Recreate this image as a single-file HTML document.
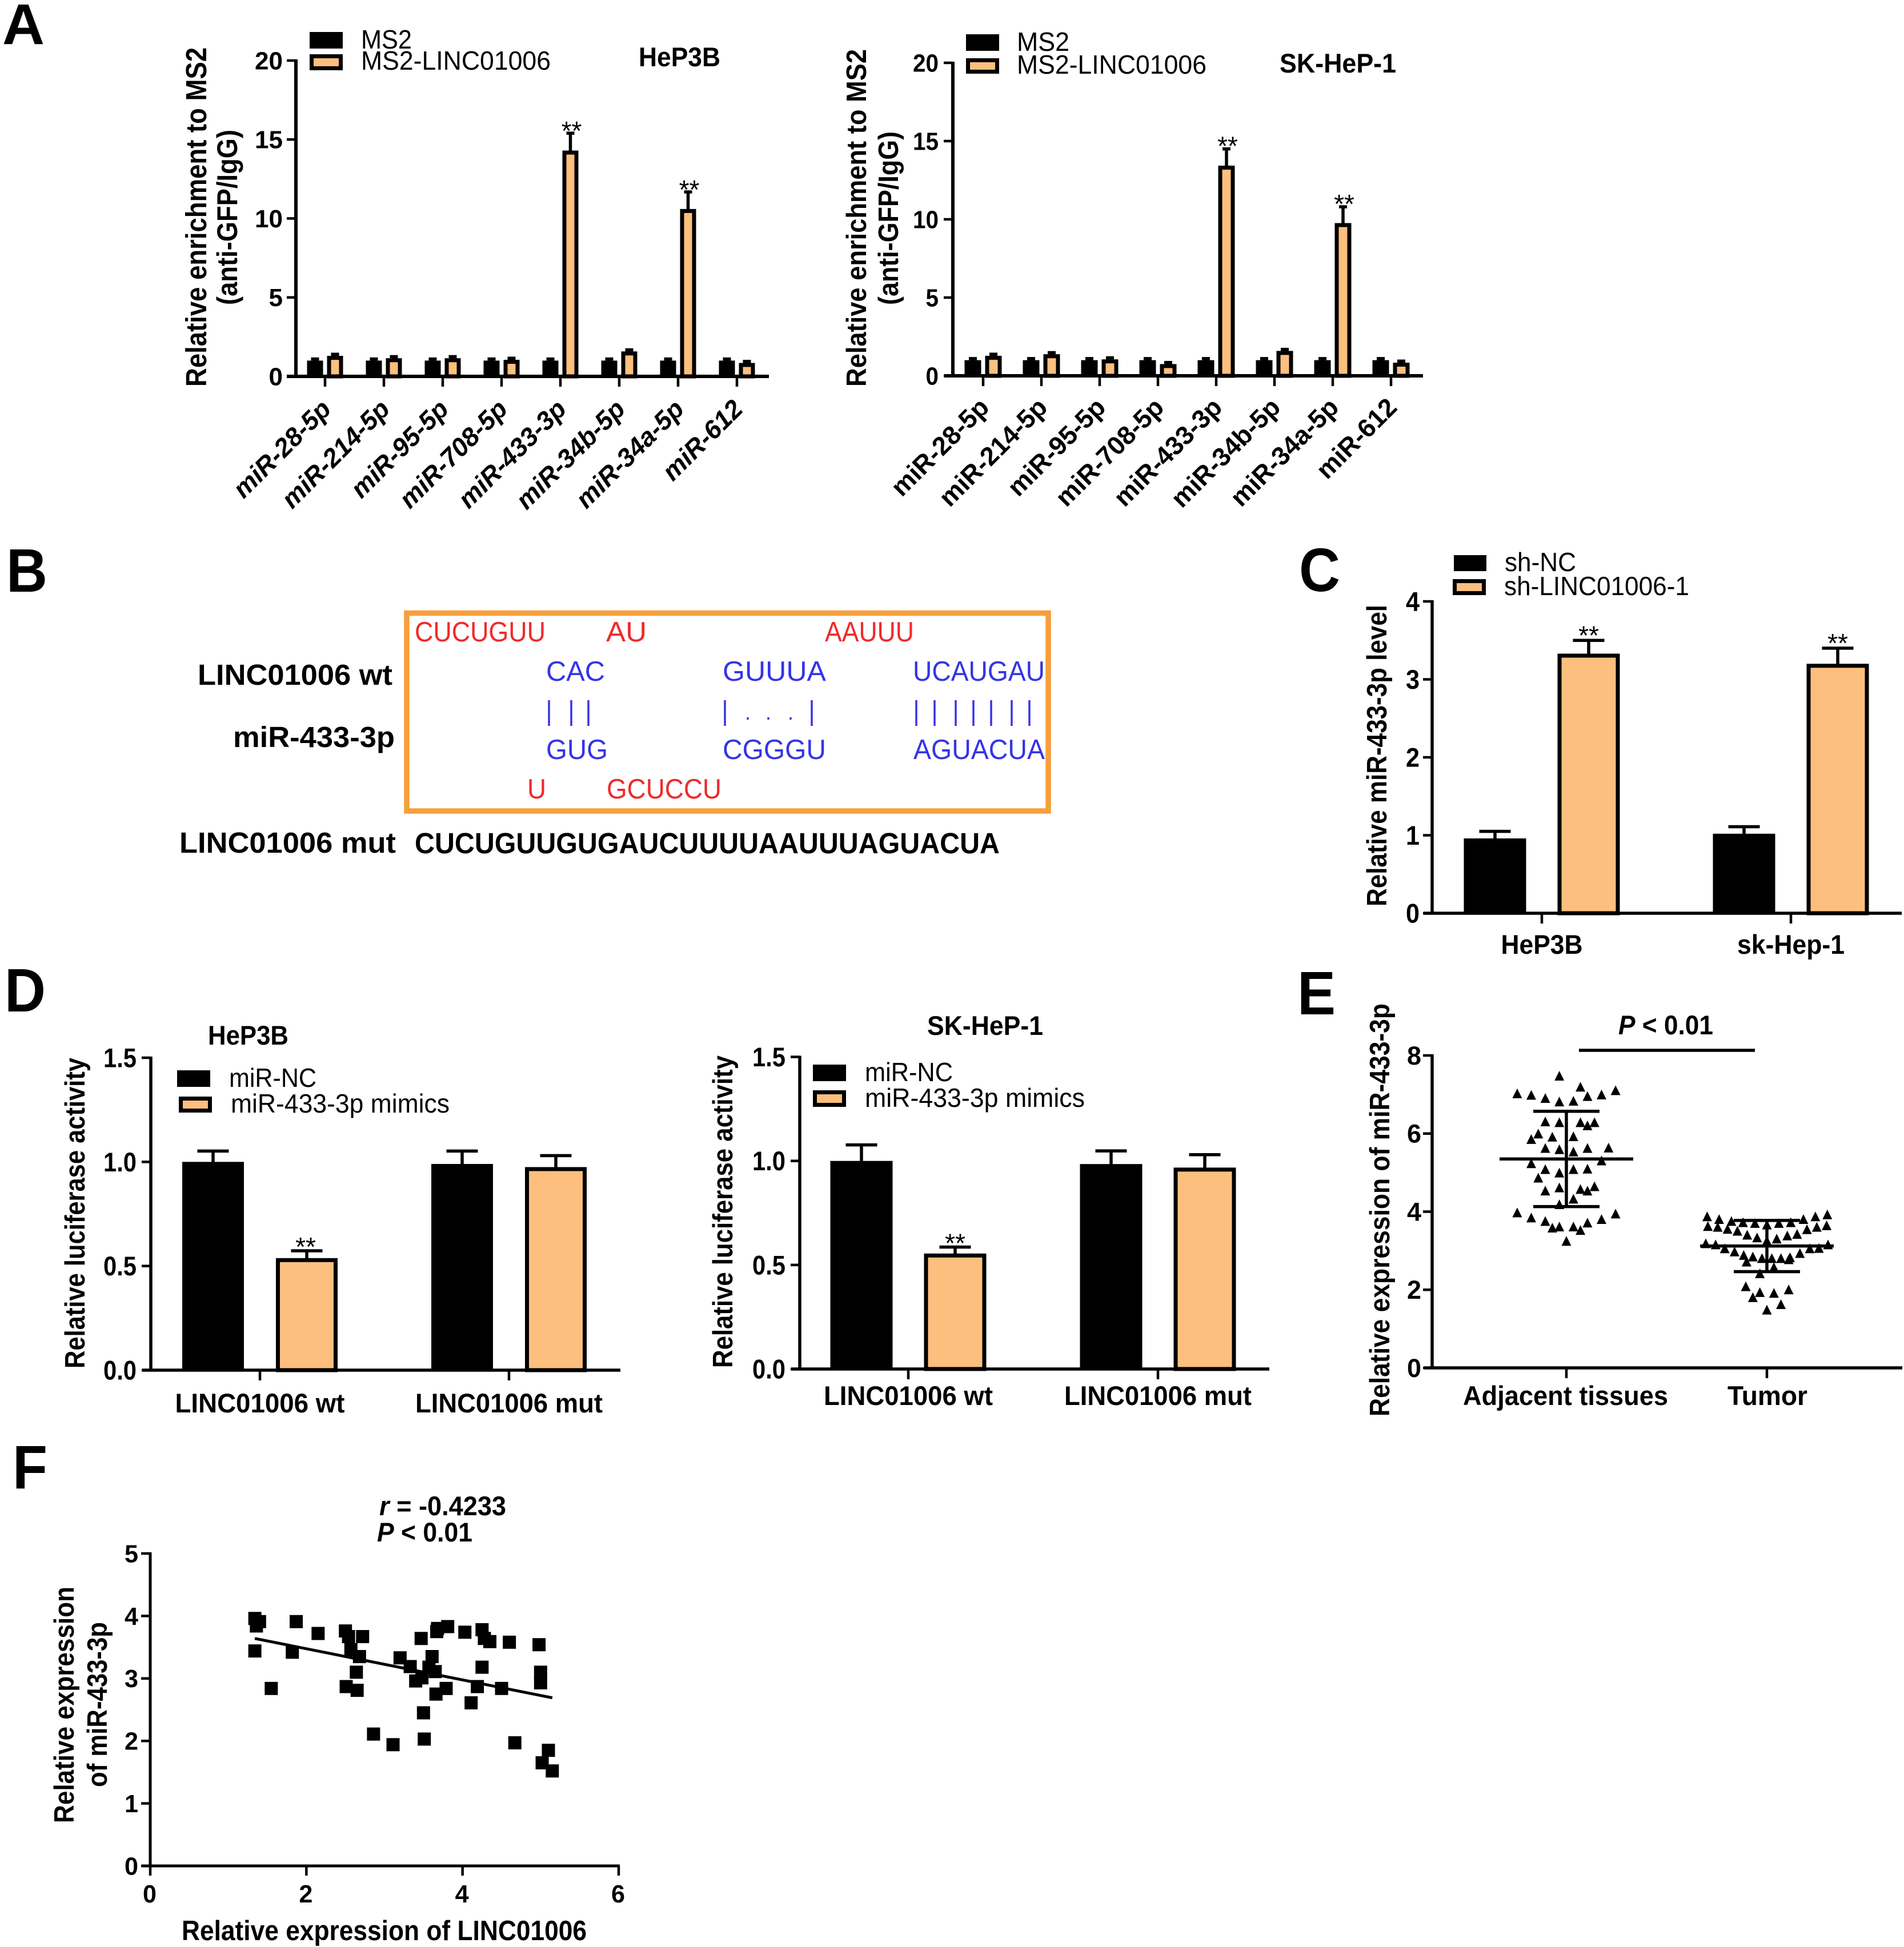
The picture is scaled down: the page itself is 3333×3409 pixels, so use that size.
<!DOCTYPE html>
<html lang="en">
<head>
<meta charset="utf-8">
<title>LINC01006 and miR-433-3p figure</title>
<style>
html,body{margin:0;padding:0;background:#fff}
svg{display:block}
text{font-family:"Liberation Sans",Arial,sans-serif;fill:#000}
.b{font-weight:700}
.letter{font-weight:700;font-size:108px}
.leg{font-size:46px}
.ttl{font-weight:700;font-size:47px}
.yt{font-weight:700;font-size:49px}
.red{font-size:49px;fill:#f02a2a}
.blue{font-size:49px;fill:#3434e6}
.lab{font-weight:700;font-size:51px}
</style>
</head>
<body>
<svg id="figure" xmlns="http://www.w3.org/2000/svg" width="3333" height="3409" viewBox="0 0 3333 3409">
<rect x="0" y="0" width="3333" height="3409" fill="#fff"/>

<text class="letter" style="font-size:100px" x="4" y="77" textLength="74" lengthAdjust="spacingAndGlyphs">A</text>
<text class="letter" x="11" y="1036" textLength="72" lengthAdjust="spacingAndGlyphs">B</text>
<text class="letter" x="2274" y="1035" textLength="72" lengthAdjust="spacingAndGlyphs">C</text>
<text class="letter" x="8" y="1771" textLength="72" lengthAdjust="spacingAndGlyphs">D</text>
<text class="letter" x="2271" y="1776" textLength="67" lengthAdjust="spacingAndGlyphs">E</text>
<text class="letter" x="22" y="2606" textLength="61" lengthAdjust="spacingAndGlyphs">F</text>

<!-- Panel A left -->
<g id="panelA1">
  <rect x="542" y="56" width="58" height="29" fill="#000"/>
  <rect x="545.5" y="98.5" width="51" height="21" fill="#fdbf7e" stroke="#000" stroke-width="7"/>
  <text class="leg" x="632" y="85" textLength="89" lengthAdjust="spacingAndGlyphs">MS2</text>
  <text class="leg" x="632" y="122" textLength="332" lengthAdjust="spacingAndGlyphs">MS2-LINC01006</text>
  <text class="ttl" x="1118" y="116" textLength="143" lengthAdjust="spacingAndGlyphs">HeP3B</text>
  <text class="yt" style="font-size:51px" transform="translate(361,677) rotate(-90)" textLength="594" lengthAdjust="spacingAndGlyphs">Relative enrichment to MS2</text>
  <text class="yt" style="font-size:50px" transform="translate(415,534) rotate(-90)" textLength="307" lengthAdjust="spacingAndGlyphs">(anti-GFP/IgG)</text>
</g>

<!-- Panel A right -->
<g id="panelA2">
  <rect x="1691" y="60" width="58" height="29" fill="#000"/>
  <rect x="1694.5" y="105.5" width="51" height="20" fill="#fdbf7e" stroke="#000" stroke-width="7"/>
  <text class="leg" x="1780" y="89" textLength="92" lengthAdjust="spacingAndGlyphs">MS2</text>
  <text class="leg" x="1780" y="129" textLength="332" lengthAdjust="spacingAndGlyphs">MS2-LINC01006</text>
  <text class="ttl" x="2240" y="127" textLength="204" lengthAdjust="spacingAndGlyphs">SK-HeP-1</text>
  <text class="yt" style="font-size:49px" transform="translate(1516,677) rotate(-90)" textLength="591" lengthAdjust="spacingAndGlyphs">Relative enrichment to MS2</text>
  <text class="yt" style="font-size:49px" transform="translate(1572,534) rotate(-90)" textLength="304" lengthAdjust="spacingAndGlyphs">(anti-GFP/IgG)</text>
</g>

<!-- Panel B -->
<g id="panelB">
  <rect x="712" y="1073.5" width="1123" height="346.5" fill="#fff" stroke="#f79f3c" stroke-width="9.5"/>
  <text class="lab" x="346" y="1199" textLength="341" lengthAdjust="spacingAndGlyphs">LINC01006 wt</text>
  <text class="lab" x="408" y="1308" textLength="283" lengthAdjust="spacingAndGlyphs">miR-433-3p</text>
  <text class="lab" x="314" y="1493" textLength="379" lengthAdjust="spacingAndGlyphs">LINC01006 mut</text>
  <text class="lab" x="726" y="1494" textLength="1024" lengthAdjust="spacingAndGlyphs">CUCUGUUGUGAUCUUUUAAUUUAGUACUA</text>
  <text class="red" x="726" y="1123" textLength="229" lengthAdjust="spacingAndGlyphs">CUCUGUU</text>
  <text class="red" x="1061" y="1123" textLength="71" lengthAdjust="spacingAndGlyphs">AU</text>
  <text class="red" x="1444" y="1123" textLength="156" lengthAdjust="spacingAndGlyphs">AAUUU</text>
  <text class="blue" x="956" y="1192" textLength="103" lengthAdjust="spacingAndGlyphs">CAC</text>
  <text class="blue" x="1265" y="1192" textLength="181" lengthAdjust="spacingAndGlyphs">GUUUA</text>
  <text class="blue" x="1598" y="1192" textLength="231" lengthAdjust="spacingAndGlyphs">UCAUGAU</text>
  <g stroke="#3434e6" stroke-width="3.5">
    <line x1="961" x2="961" y1="1226" y2="1271"/>
    <line x1="1000" x2="1000" y1="1226" y2="1271"/>
    <line x1="1030" x2="1030" y1="1226" y2="1271"/>
    <line x1="1269" x2="1269" y1="1226" y2="1271"/>
    <line x1="1421" x2="1421" y1="1226" y2="1271"/>
    <line x1="1604" x2="1604" y1="1226" y2="1271"/>
    <line x1="1636" x2="1636" y1="1226" y2="1271"/>
    <line x1="1673" x2="1673" y1="1226" y2="1271"/>
    <line x1="1704" x2="1704" y1="1226" y2="1271"/>
    <line x1="1735" x2="1735" y1="1226" y2="1271"/>
    <line x1="1771" x2="1771" y1="1226" y2="1271"/>
    <line x1="1802" x2="1802" y1="1226" y2="1271"/>
    <line x1="1309" x2="1309" y1="1256" y2="1260"/>
    <line x1="1345" x2="1345" y1="1256" y2="1260"/>
    <line x1="1384" x2="1384" y1="1256" y2="1260"/>
  </g>
  <text class="blue" x="956" y="1329" textLength="108" lengthAdjust="spacingAndGlyphs">GUG</text>
  <text class="blue" x="1265" y="1329" textLength="181" lengthAdjust="spacingAndGlyphs">CGGGU</text>
  <text class="blue" x="1599" y="1329" textLength="230" lengthAdjust="spacingAndGlyphs">AGUACUA</text>
  <text class="red" x="923" y="1398" textLength="33" lengthAdjust="spacingAndGlyphs">U</text>
  <text class="red" x="1062" y="1398" textLength="201" lengthAdjust="spacingAndGlyphs">GCUCCU</text>
</g>

<!-- Panel C -->
<g id="panelC">
  <rect x="2545" y="972" width="57" height="28" fill="#000"/>
  <rect x="2546.5" y="1017.5" width="51" height="21" fill="#fdbf7e" stroke="#000" stroke-width="7"/>
  <text class="leg" x="2634" y="1000" textLength="125" lengthAdjust="spacingAndGlyphs">sh-NC</text>
  <text class="leg" x="2633" y="1042" textLength="324" lengthAdjust="spacingAndGlyphs">sh-LINC01006-1</text>
  <text class="yt" transform="translate(2427,1587) rotate(-90)" textLength="528" lengthAdjust="spacingAndGlyphs">Relative miR-433-3p level</text>
</g>

<!-- Panel D left -->
<g id="panelD1">
  <rect x="310" y="1874" width="58" height="29" fill="#000"/>
  <rect x="316.5" y="1923.5" width="51" height="21" fill="#fdbf7e" stroke="#000" stroke-width="7"/>
  <text class="leg" x="401" y="1903" textLength="153" lengthAdjust="spacingAndGlyphs">miR-NC</text>
  <text class="leg" x="404" y="1948" textLength="383" lengthAdjust="spacingAndGlyphs">miR-433-3p mimics</text>
  <text class="ttl" x="364" y="1829" textLength="141" lengthAdjust="spacingAndGlyphs">HeP3B</text>
  <text class="yt" transform="translate(148,2396) rotate(-90)" textLength="544" lengthAdjust="spacingAndGlyphs">Relative luciferase activity</text>
</g>

<!-- Panel D right -->
<g id="panelD2">
  <rect x="1423" y="1864" width="58" height="29" fill="#000"/>
  <rect x="1426.5" y="1912.5" width="51" height="22" fill="#fdbf7e" stroke="#000" stroke-width="7"/>
  <text class="leg" x="1514" y="1893" textLength="154" lengthAdjust="spacingAndGlyphs">miR-NC</text>
  <text class="leg" x="1514" y="1938" textLength="385" lengthAdjust="spacingAndGlyphs">miR-433-3p mimics</text>
  <text class="ttl" x="1623" y="1812" textLength="203" lengthAdjust="spacingAndGlyphs">SK-HeP-1</text>
  <text class="yt" transform="translate(1282,2395) rotate(-90)" textLength="547" lengthAdjust="spacingAndGlyphs">Relative luciferase activity</text>
</g>

<!-- Panel E -->
<g id="panelE">
  <text class="yt" transform="translate(2432,2480) rotate(-90)" textLength="723" lengthAdjust="spacingAndGlyphs">Relative expression of miR-433-3p</text>
  <line x1="2764" x2="3072" y1="1839" y2="1839" stroke="#000" stroke-width="5.5"/>
  <text class="ttl" x="2833" y="1811" textLength="166" lengthAdjust="spacingAndGlyphs"><tspan font-style="italic">P</tspan> &lt; 0.01</text>
</g>

<!-- Panel F -->
<g id="panelF">
  <text class="ttl" x="664" y="2653" textLength="222" lengthAdjust="spacingAndGlyphs"><tspan font-style="italic">r</tspan> = -0.4233</text>
  <text class="ttl" x="660" y="2699" textLength="167" lengthAdjust="spacingAndGlyphs"><tspan font-style="italic">P</tspan> &lt; 0.01</text>
  <text class="yt" transform="translate(129,3192) rotate(-90)" textLength="414" lengthAdjust="spacingAndGlyphs">Relative expression</text>
  <text class="yt" transform="translate(187,3129) rotate(-90)" textLength="289" lengthAdjust="spacingAndGlyphs">of miR-433-3p</text>
  <text class="yt" x="318" y="3397" textLength="709" lengthAdjust="spacingAndGlyphs">Relative expression of LINC01006</text>
</g>
</svg>

<script>
// ---------- Panel A data ----------
const mirCategories = ['miR-28-5p','miR-214-5p','miR-95-5p','miR-708-5p','miR-433-3p','miR-34b-5p','miR-34a-5p','miR-612'];
const enrichTicks = [0,5,10,15,20];
const hep3bMs2 = [1,1,1,1,1,1,1,1];
const hep3bMs2Err = [0.1,0.1,0.1,0.1,0.1,0.1,0.1,0.1];
const hep3bLinc = [1.3,1.15,1.15,1.05,14.3,1.58,10.6,0.85];
const hep3bLincErr = [0.1,0.1,0.1,0.1,1.1,0.1,1.08,0.1];
const hep3bStars = ['','','','','**','','**',''];
const skMs2 = [1,1,1,1,1,1,1,1];
const skMs2Err = [0.1,0.1,0.1,0.1,0.1,0.1,0.1,0.1];
const skLinc = [1.28,1.38,1.05,0.75,13.43,1.59,9.76,0.84];
const skLincErr = [0.1,0.1,0.1,0.1,1.07,0.1,1.04,0.1];
const skStars = ['','','','','**','','**',''];

// ---------- Panel C data ----------
const cCategories = ['HeP3B','sk-Hep-1'];
const cTicks = [0,1,2,3,4];
const shNc = [0.96,1.02];
const shNcErr = [0.09,0.09];
const shLinc = [3.33,3.2];
const shLincErr = [0.17,0.2];
const cStars = ['**','**'];

// ---------- Panel D data ----------
const dCategories = ['LINC01006 wt','LINC01006 mut'];
const dTicks = ['0.0','0.5','1.0','1.5'];
const dHepNc = [1.0,0.99];
const dHepNcErr = [0.052,0.062];
const dHepMimic = [0.538,0.975];
const dHepMimicErr = [0.035,0.055];
const dHepStars = ['**',''];
const dSkNc = [1.0,0.985];
const dSkNcErr = [0.077,0.063];
const dSkMimic = [0.555,0.968];
const dSkMimicErr = [0.031,0.062];
const dSkStars = ['**',''];

// ---------- Panel E data ----------
const eCategories = ['Adjacent tissues','Tumor'];
const eTicks = [0,2,4,6,8];
const adjacentValues = [7.48,7.20,7.03,6.99,7.11,6.91,6.82,6.84,6.96,7.00,6.31,6.29,6.29,6.21,6.29,6.00,5.86,5.92,5.93,5.63,5.60,5.54,5.63,5.64,5.24,5.31,5.09,5.09,5.10,5.00,4.87,4.62,4.65,4.54,4.58,4.54,4.33,4.19,3.98,3.85,3.95,3.81,3.76,3.72,3.59,3.62,3.62,3.53,3.25];
const adjacentJitter = [-1,2,-7,-5,7,-3,-1,1,3,5,-3,-1,2,3,4,-4,-5,-2,1,-3,-1,1,3,6,-5,5,-3,1,3,-1,-4,-1,4,-3,2,3,1,-1,-7,-5,7,5,-3,3,-2,-1,1,2,0];
const adjacentMean = 5.35;
const adjacentSd = 1.22;
const tumorValues = [3.88,3.81,3.76,3.73,3.71,3.67,3.71,3.73,3.81,3.88,3.93,3.63,3.61,3.56,3.51,3.41,3.34,3.26,3.31,3.39,3.43,3.55,3.61,3.65,3.19,3.16,3.06,2.98,2.89,2.85,2.81,2.81,2.81,2.83,2.94,3.06,3.07,3.16,2.72,2.78,2.58,2.42,2.09,2.01,1.94,1.92,1.81,1.63,1.49];
const tumorJitter = [-8.5,-6.8,-5.05,-3.4,-1.7,0,1.7,3.4,5.2,6.9,8.6,-8.4,-7,-5.6,-4.2,-2.8,-1.4,0,1.4,2.9,4.3,5.7,7.1,8.5,-8.7,-7.3,-6,-4.6,-3.3,-2,-0.7,0.7,2,3.3,4.7,6.1,7.4,8.7,-2.9,3.1,1,-1,-3,3.1,-1,1,-2,2,0];
const tumorMean = 3.12;
const tumorSd = 0.655;

// ---------- Panel F data ----------
const fXTicks = [0,2,4,6];
const fYTicks = [0,1,2,3,4,5];
const lincExpression = [1.34,1.40,1.36,1.87,2.15,2.50,2.54,2.72,1.34,1.82,2.57,2.68,1.55,2.51,2.65,2.64,3.20,3.33,3.61,3.57,3.65,3.48,3.40,3.68,3.67,3.81,4.03,4.25,4.28,4.35,4.60,4.98,3.47,4.25,5.00,5.00,3.79,3.66,4.19,4.50,4.11,3.50,2.86,3.11,3.51,4.67,5.10,5.02,5.15];
const mirExpression = [3.96,3.91,3.84,3.91,3.72,3.76,3.67,3.67,3.44,3.42,3.46,3.35,2.84,2.87,2.81,3.10,3.33,3.19,3.35,3.18,3.11,3.01,2.96,3.80,3.75,3.83,3.74,3.78,3.64,3.59,3.58,3.54,3.64,3.18,3.10,2.93,2.84,2.75,2.87,2.84,2.61,2.45,2.11,1.94,2.03,1.97,1.85,1.65,1.52];
const fitX = [1.34,5.15];
const fitY = [3.64,2.69];

// ---------- Drawing helpers ----------
const SVGNS = 'http://www.w3.org/2000/svg';
const ORANGE = '#fdbf7e';

function mk(parent, tag, attrs) {
  const el = document.createElementNS(SVGNS, tag);
  for (const k in attrs) el.setAttribute(k, attrs[k]);
  parent.appendChild(el);
  return el;
}
function yPos(p, v) { return p.y0 - (v / p.yMax) * (p.y0 - p.yTop); }

function drawYAxis(g, p, ticks) {
  const axis = mk(g, 'line', {x1:p.axisX, x2:p.axisX, y1:p.yTop - 2, y2:p.y0 + 2.5, stroke:'#000', 'stroke-width':p.lw});
  
  
  ticks.forEach(function (t) {
    const y = yPos(p, Number(t));
    const tick = mk(g, 'line', {x1:p.axisX - 16, x2:p.axisX, y1:y, y2:y, stroke:'#000', 'stroke-width':4.5});
    
    
    const s = String(t);
    const digits = s.replace('.', '').length;
    const dots = s.length - digits;
    const label = mk(g, 'text', {x:p.labelRight, y:y + p.tickFs * 0.35, 'text-anchor':'end', 'font-size':p.tickFs, 'font-weight':700,
      textLength:digits * p.digitW + dots * 11, lengthAdjust:'spacingAndGlyphs'});
    label.textContent = s;
    
    
  });
}

function drawBar(g, p, cx, v, err, filled, star) {
  const top = yPos(p, v);
  const errTop = yPos(p, v + err);
  const stem = mk(g, 'line', {x1:cx, x2:cx, y1:errTop, y2:top + 2, stroke:'#000', 'stroke-width':5.5});
  
  
  const cap = mk(g, 'line', {x1:cx - p.capW / 2, x2:cx + p.capW / 2, y1:errTop, y2:errTop, stroke:'#000', 'stroke-width':5.5});
  
  
  let bar;
  if (filled) {
    const b = p.border;
    bar = mk(g, 'rect', {x:cx - p.barW / 2 + b / 2, y:top + b / 2, width:p.barW - b, height:Math.max(0, p.y0 - top - b / 2), fill:ORANGE, stroke:'#000', 'stroke-width':b});
  } else {
    bar = mk(g, 'rect', {x:cx - p.barW / 2, y:top, width:p.barW, height:p.y0 - top, fill:'#000'});
  }
  
  
  if (star) {
    const st = mk(g, 'text', {x:cx + p.starDx, y:errTop + p.starDy, 'text-anchor':'middle', 'font-size':46});
    st.textContent = star;
    
    
  }
}

function drawBarPanel(id, p, cats, ticks, a, aErr, b, bErr, stars) {
  const g = document.getElementById(id);
  cats.forEach(function (c, i) {
    const x = p.catX0 + i * p.catStep;
    drawBar(g, p, x - p.off, a[i], aErr[i], false, '');
    drawBar(g, p, x + p.off, b[i], bErr[i], true, stars[i]);
    const tick = mk(g, 'line', {x1:x, x2:x, y1:p.y0, y2:p.y0 + 18, stroke:'#000', 'stroke-width':4.5});
    
    
    let label;
    if (p.rotated) {
      const ax = x + 13;
      label = mk(g, 'text', {x:0, y:0, 'text-anchor':'end', 'font-size':45.5, 'font-weight':700,
        'font-style':p.italic ? 'italic' : 'normal', transform:'translate(' + ax + ',' + p.labelY + ') rotate(-45)'});
    } else {
      label = mk(g, 'text', {x:x + (p.labelDx ? p.labelDx[i] : 0), y:p.labelY, 'text-anchor':'middle', 'font-size':47, 'font-weight':700,
        textLength:p.labelLens[i], lengthAdjust:'spacingAndGlyphs'});
    }
    label.textContent = c;
    
    
  });
  const xAxis = mk(g, 'line', {x1:p.xStart, x2:p.xEnd, y1:p.y0, y2:p.y0, stroke:'#000', 'stroke-width':p.lw});
  
  
  drawYAxis(g, p, ticks);
}

drawBarPanel('panelA1', {axisX:518, y0:659, yTop:106, yMax:20, xStart:502, xEnd:1346, catX0:569, catStep:103, off:17.5, barW:28, capW:14, border:7, lw:6, labelRight:495, tickFs:44, digitW:24.5, rotated:true, italic:true, labelY:719, starDx:2, starDy:12},
  mirCategories, enrichTicks, hep3bMs2, hep3bMs2Err, hep3bLinc, hep3bLincErr, hep3bStars);
drawBarPanel('panelA2', {axisX:1668, y0:658, yTop:110, yMax:20, xStart:1653, xEnd:2491, catX0:1721, catStep:102, off:18, barW:29, capW:14, border:7, lw:6, labelRight:1643, tickFs:44, digitW:22.5, rotated:true, italic:false, labelY:716, starDx:2, starDy:11},
  mirCategories, enrichTicks, skMs2, skMs2Err, skLinc, skLincErr, skStars);
drawBarPanel('panelC', {axisX:2507, y0:1599, yTop:1053, yMax:4, xStart:2492, xEnd:3329, catX0:2699, catStep:436, off:82, barW:109, capW:55, border:7, lw:5.5, labelRight:2485, tickFs:47, digitW:24, rotated:false, labelY:1670, labelLens:[143,188], starDx:0, starDy:7},
  cCategories, cTicks, shNc, shNcErr, shLinc, shLincErr, cStars);
drawBarPanel('panelD1', {axisX:264, y0:2399, yTop:1852, yMax:1.5, xStart:249, xEnd:1086, catX0:455, catStep:436, off:82, barW:108, capW:55, border:7, lw:5.5, labelRight:239, tickFs:47, digitW:23.5, rotated:false, labelY:2473, labelLens:[297,328], starDx:-2, starDy:9},
  dCategories, dTicks, dHepNc, dHepNcErr, dHepMimic, dHepMimicErr, dHepStars);
drawBarPanel('panelD2', {axisX:1400, y0:2397, yTop:1850.5, yMax:1.5, xStart:1385, xEnd:2222, catX0:1590, catStep:437, off:82, barW:109, capW:55, border:7, lw:5.5, labelRight:1375, tickFs:47, digitW:23.5, rotated:false, labelY:2460, labelLens:[296,328], starDx:0, starDy:9},
  dCategories, dTicks, dSkNc, dSkNcErr, dSkMimic, dSkMimicErr, dSkStars);

// ---------- Panel E ----------
function drawSwarm(g, p, cx, values, jitter, mean, sd) {
  values.forEach(function (v, i) {
    const x = cx + jitter[i] * p.jitterUnit;
    const y = yPos(p, v);
    const h = p.markerSize / 2;
    const tri = mk(g, 'polygon', {points:(x - h) + ',' + (y + h) + ' ' + (x + h) + ',' + (y + h) + ' ' + x + ',' + (y - h), fill:'#000'});
    
    
  });
  const yMean = yPos(p, mean);
  const yHi = yPos(p, mean + sd);
  const yLo = yPos(p, mean - sd);
  const stem = mk(g, 'line', {x1:cx, x2:cx, y1:yHi, y2:yLo, stroke:'#000', 'stroke-width':5.5});
  
  
  const meanLine = mk(g, 'line', {x1:cx - p.meanHalf, x2:cx + p.meanHalf, y1:yMean, y2:yMean, stroke:'#000', 'stroke-width':5.5});
  
  
  const capHi = mk(g, 'line', {x1:cx - p.capHalf, x2:cx + p.capHalf, y1:yHi, y2:yHi, stroke:'#000', 'stroke-width':5.5});
  
  
  const capLo = mk(g, 'line', {x1:cx - p.capHalf, x2:cx + p.capHalf, y1:yLo, y2:yLo, stroke:'#000', 'stroke-width':5.5});
  
  
}

(function () {
  const g = document.getElementById('panelE');
  const p = {axisX:2507, y0:2395, yTop:1848, yMax:8, lw:5.5, labelRight:2488, tickFs:45, digitW:25, jitterUnit:12.3, markerSize:17, meanHalf:117, capHalf:58, catX0:2742, catStep:351, labelY:2460};
  const labelLens = [359,140];
  const labelDx = [-1.5,1];
  drawSwarm(g, p, p.catX0, adjacentValues, adjacentJitter, adjacentMean, adjacentSd);
  drawSwarm(g, p, p.catX0 + p.catStep, tumorValues, tumorJitter, tumorMean, tumorSd);
  eCategories.forEach(function (c, i) {
    const x = p.catX0 + i * p.catStep;
    const tick = mk(g, 'line', {x1:x, x2:x, y1:p.y0, y2:p.y0 + 18, stroke:'#000', 'stroke-width':4.5});
    
    
    const label = mk(g, 'text', {x:x + labelDx[i], y:p.labelY, 'text-anchor':'middle', 'font-size':47, 'font-weight':700, textLength:labelLens[i], lengthAdjust:'spacingAndGlyphs'});
    label.textContent = c;
    
    
  });
  const xAxis = mk(g, 'line', {x1:2493, x2:3330, y1:p.y0, y2:p.y0, stroke:'#000', 'stroke-width':p.lw});
  
  
  drawYAxis(g, p, eTicks);
})();

// ---------- Panel F ----------
(function () {
  const g = document.getElementById('panelF');
  const p = {axisX:263, y0:3267, yTop:2720, yMax:5, lw:5, labelRight:242, tickFs:44, digitW:24, xMax:6, xRight:1083};
  function xPos(v) { return p.axisX + (v / p.xMax) * (p.xRight - p.axisX); }
  lincExpression.forEach(function (xv, i) {
    const sq = mk(g, 'rect', {x:xPos(xv) - 11.5, y:yPos(p, mirExpression[i]) - 11.5, width:23, height:23, fill:'#000'});
    
    
  });
  const fit = mk(g, 'line', {x1:xPos(fitX[0]), y1:yPos(p, fitY[0]), x2:xPos(fitX[1]), y2:yPos(p, fitY[1]), stroke:'#000', 'stroke-width':5});
  
  
  fXTicks.forEach(function (t) {
    const x = xPos(t);
    const tick = mk(g, 'line', {x1:x, x2:x, y1:p.y0, y2:p.y0 + 17, stroke:'#000', 'stroke-width':4.5});
    
    
    const label = mk(g, 'text', {x:x - 1, y:3331, 'text-anchor':'middle', 'font-size':44, 'font-weight':700, textLength:24, lengthAdjust:'spacingAndGlyphs'});
    label.textContent = String(t);
    
    
  });
  const xAxis = mk(g, 'line', {x1:248, x2:p.xRight + 2, y1:p.y0, y2:p.y0, stroke:'#000', 'stroke-width':p.lw});
  
  
  drawYAxis(g, p, fYTicks);
})();
</script>
</body>
</html>
